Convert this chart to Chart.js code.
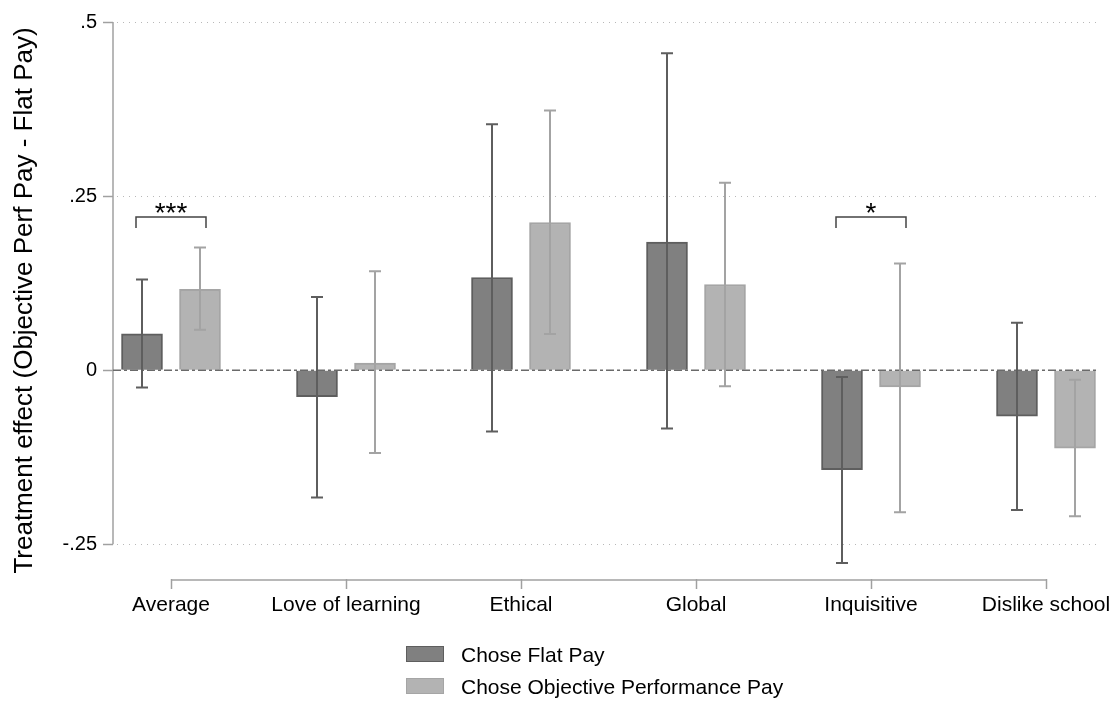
<!DOCTYPE html>
<html>
<head>
<meta charset="utf-8">
<script src="https://cdn.jsdelivr.net/npm/chart.js@4"></script>
<style>
  body { margin: 0; background: #fff; }
  #wrap { position: relative; width: 1116px; height: 702px; }
  .leg { position: absolute; left: 406px; font: 21px "Liberation Sans", Arial, sans-serif; color: #000; }
  .leg span { display: inline-block; width: 36px; height: 14px; vertical-align: middle; margin-right: 17px; border: 1px solid; position: relative; top: -2px; }
</style>
</head>
<body>
<div id="wrap">
  <canvas id="chart" width="1116" height="702"></canvas>
  <div class="leg" style="top:643px"><span style="background:#808080;border-color:#5e5e5e"></span>Chose Flat Pay</div>
  <div class="leg" style="top:675px"><span style="background:#b3b3b3;border-color:#a5a5a5"></span>Chose Objective Performance Pay</div>
</div>
<script>
// values
const categories = ['Average', 'Love of learning', 'Ethical', 'Global', 'Inquisitive', 'Dislike school'];
const flatPay   = [0.052, -0.038, 0.133, 0.184, -0.143, -0.066];
const flatLo    = [-0.025, -0.183, -0.088, -0.084, -0.277, -0.201];
const flatHi    = [0.130, 0.105, 0.353, 0.455, -0.010, 0.068];
const perfPay   = [0.116, 0.010, 0.212, 0.123, -0.024, -0.112];
const perfLo    = [0.058, -0.119, 0.052, -0.023, -0.204, -0.210];
const perfHi    = [0.176, 0.142, 0.373, 0.269, 0.153, -0.014];
const stars     = ['***', '', '', '', '*', ''];
const yTicks    = [-0.25, 0, 0.25, 0.5];

const shift = 29 / 175; // half distance between the two bars of a group
const axisGray = '#a0a0a0';

Chart.defaults.font.family = '"Liberation Sans", Arial, Helvetica, sans-serif';
Chart.defaults.color = '#000';

function pts(vals, d) {
  return vals.map(function(v, i) { return { x: i + 1 + d, y: v }; });
}

const extras = {
  id: 'extras',
  beforeDatasetsDraw(chart) {
    const ctx = chart.ctx, a = chart.chartArea;
    const y = chart.scales.y, x = chart.scales.x;
    ctx.save();
    // dotted grid
    ctx.strokeStyle = '#b8b8b8';
    ctx.lineWidth = 1;
    ctx.setLineDash([1, 5]);
    yTicks.forEach(function(t) {
      if (t === 0) return;
      const py = Math.round(y.getPixelForValue(t)) + 0.5;
      ctx.beginPath(); ctx.moveTo(a.left + 4, py); ctx.lineTo(a.right, py); ctx.stroke();
    });
    ctx.setLineDash([]);
    // axis lines
    ctx.strokeStyle = axisGray;
    ctx.lineWidth = 1.5;
    ctx.beginPath();
    ctx.moveTo(a.left, y.getPixelForValue(0.5));
    ctx.lineTo(a.left, y.getPixelForValue(-0.25));
    ctx.stroke();
    ctx.beginPath();
    ctx.moveTo(x.getPixelForValue(1), a.bottom + 1);
    ctx.lineTo(x.getPixelForValue(categories.length), a.bottom + 1);
    ctx.stroke();
    ctx.restore();
  },
  afterDatasetsDraw(chart) {
    const ctx = chart.ctx, a = chart.chartArea;
    const y = chart.scales.y, x = chart.scales.x;
    ctx.save();
    // zero line
    ctx.strokeStyle = '#6a6a6a';
    ctx.lineWidth = 1.5;
    ctx.setLineDash([8, 3, 3, 3]);
    const y0 = y.getPixelForValue(0);
    ctx.beginPath(); ctx.moveTo(a.left, y0); ctx.lineTo(a.right, y0); ctx.stroke();
    ctx.setLineDash([]);
    // error bars
    const sets = [
      { lo: flatLo, hi: flatHi, d: -shift, c: '#5e5e5e' },
      { lo: perfLo, hi: perfHi, d: shift, c: '#a3a3a3' }
    ];
    sets.forEach(function(s) {
      ctx.strokeStyle = s.c;
      ctx.lineWidth = 2;
      s.lo.forEach(function(lo, i) {
        const px = x.getPixelForValue(i + 1 + s.d);
        const pl = y.getPixelForValue(lo), ph = y.getPixelForValue(s.hi[i]);
        ctx.beginPath();
        ctx.moveTo(px, pl); ctx.lineTo(px, ph);
        ctx.moveTo(px - 6, pl); ctx.lineTo(px + 6, pl);
        ctx.moveTo(px - 6, ph); ctx.lineTo(px + 6, ph);
        ctx.stroke();
      });
    });
    // significance brackets
    ctx.strokeStyle = '#444';
    ctx.lineWidth = 1.5;
    ctx.fillStyle = '#000';
    ctx.font = '28px "Liberation Sans", Arial, sans-serif';
    ctx.textAlign = 'center';
    ctx.textBaseline = 'alphabetic';
    stars.forEach(function(st, i) {
      if (!st) return;
      const l = x.getPixelForValue(i + 1 - 0.2), r = x.getPixelForValue(i + 1 + 0.2);
      const top = y.getPixelForValue(0.22), bot = y.getPixelForValue(0.204);
      ctx.beginPath();
      ctx.moveTo(l, bot); ctx.lineTo(l, top); ctx.lineTo(r, top); ctx.lineTo(r, bot);
      ctx.stroke();
      ctx.fillText(st, (l + r) / 2, top + 5);
    });
    ctx.restore();
  }
};

new Chart(document.getElementById('chart').getContext('2d'), {
  type: 'bar',
  data: {
    datasets: [
      {
        label: 'Chose Flat Pay',
        data: pts(flatPay, -shift),
        backgroundColor: '#808080',
        borderColor: '#5e5e5e',
        borderWidth: 2,
        grouped: false,
        barThickness: 41
      },
      {
        label: 'Chose Objective Performance Pay',
        data: pts(perfPay, shift),
        backgroundColor: '#b3b3b3',
        borderColor: '#a5a5a5',
        borderWidth: 2,
        grouped: false,
        barThickness: 41
      }
    ]
  },
  options: {
    responsive: false,
    animation: false,
    layout: { padding: { top: 22, right: 19, left: 0, bottom: 0 } },
    plugins: { legend: { display: false }, tooltip: { enabled: false } },
    scales: {
      x: {
        type: 'linear',
        min: 1 - 58 / 175,
        max: categories.length + 51 / 175,
        offset: false,
        border: { display: false },
        grid: { offset: false, drawOnChartArea: false, drawTicks: true, tickLength: 10, tickColor: axisGray, tickWidth: 1.5 },
        afterBuildTicks: function(scale) {
          scale.ticks = categories.map(function(c, i) { return { value: i + 1 }; });
        },
        ticks: {
          autoSkip: false,
          maxRotation: 0,
          padding: 4,
          font: { size: 21 },
          callback: function(v) { return categories[v - 1]; }
        },
        afterFit: function(scale) { scale.height = 123; }
      },
      y: {
        min: -0.30,
        max: 0.5,
        border: { display: false },
        grid: { drawOnChartArea: false, drawTicks: true, tickLength: 10, tickColor: axisGray, tickWidth: 1.5 },
        afterBuildTicks: function(scale) {
          scale.ticks = yTicks.map(function(v) { return { value: v }; });
        },
        ticks: {
          padding: 6,
          font: { size: 20 },
          callback: function(v) {
            if (v === 0) return '0';
            return String(v).replace('0.', '.');
          }
        },
        title: {
          display: true,
          text: 'Treatment effect (Objective Perf Pay - Flat Pay)',
          font: { size: 26 },
          padding: { top: 9, bottom: 0 }
        },
        afterFit: function(scale) { scale.width = 113; }
      }
    }
  },
  plugins: [extras]
});
</script>
</body>
</html>
